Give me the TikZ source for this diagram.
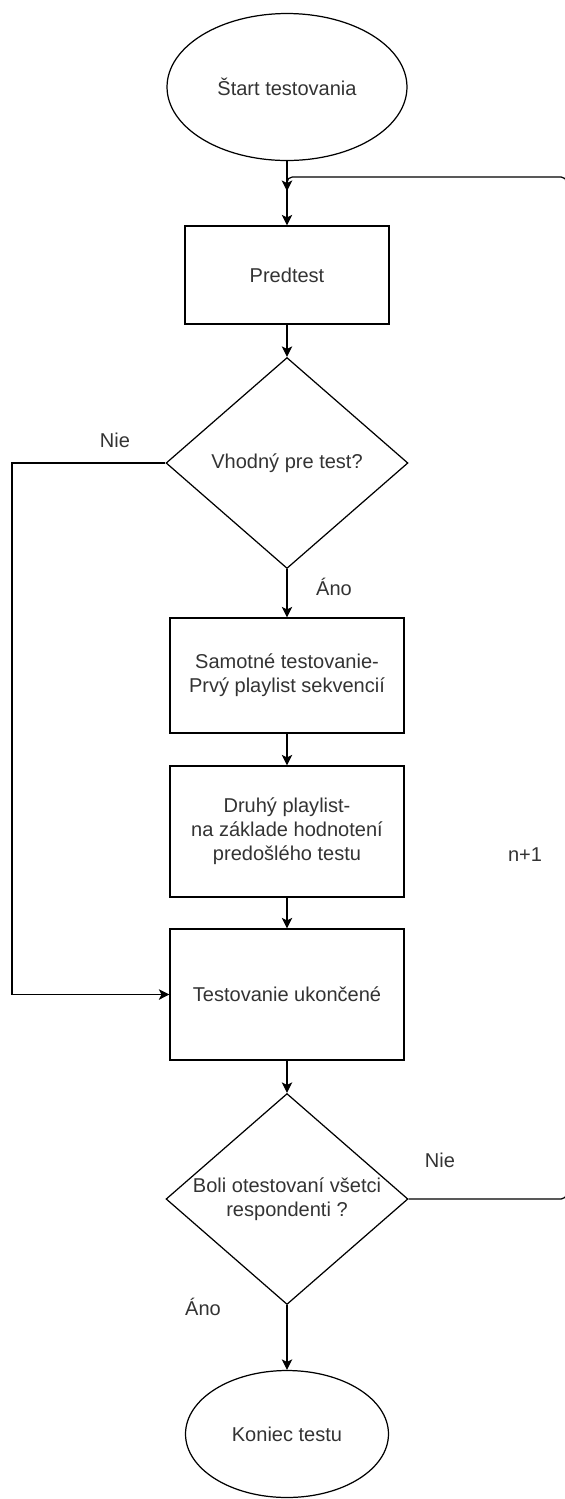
\documentclass[tikz,border=0pt]{standalone}
\usepackage{fontspec}
\setmainfont{Liberation Sans}
\usetikzlibrary{shapes.geometric,arrows.meta}
\definecolor{txt}{HTML}{333333}
\begin{document}
\begin{tikzpicture}[x=0.02cm, y=-0.02cm,
    every node/.style={font=\fontsize{11.4}{13.6}\selectfont, text=txt, align=center},
    term/.style={draw, ellipse, line width=0.7pt, inner sep=0pt},
    proc/.style={draw, rectangle, line width=0.7pt, minimum width=4.68cm},
    cond/.style={draw, diamond, line width=0.7pt, inner sep=0pt, shape aspect=1.15,
                 minimum width=4.84cm, minimum height=4.22cm},
    flow/.style={line width=0.7pt, -{Stealth[length=6pt, width=6pt, inset=1.5pt]}}]
    \useasboundingbox (0,0) rectangle (565,1499);

    \node[term, minimum width=4.8cm, minimum height=2.94cm] (start) at (287,87) {Štart testovania};
    \node[proc, minimum width=4.08cm, minimum height=1.96cm] (pred) at (287,275) {Predtest};
    \node[cond] (fit) at (287,463) {Vhodný pre test?};
    \node[proc, minimum height=2.3cm] (first) at (287,675.5) {Samotné testovanie-\\Prvý playlist sekvencií};
    \node[proc, minimum height=2.62cm] (second) at (287,831.5) {Druhý playlist-\\na základe hodnotení\\predošlého testu};
    \node[proc, minimum height=2.62cm] (done) at (287,994.5) {Testovanie ukončené};
    \node[cond] (all) at (287,1199) {Boli otestovaní všetci\\respondenti ?};
    \node[term, minimum width=4.06cm, minimum height=2.54cm] (end) at (287,1434) {Koniec testu};

    \coordinate (loopin)  at (287,191);
    \coordinate (loopbot) at (566.5,1199);
    \coordinate (looptop) at (566.5,177);
    \coordinate (rail)    at (12,463);

    \node (nie1) at (115,440) {Nie};
    \node (ano1) at (334,587) {Áno};
    \node (nie2) at (440,1160) {Nie};
    \node (ano2) at (203,1307) {Áno};
    \node (next) at (525,855) {n+1};

    \draw [flow] (start) -- (pred);
    \draw [flow] (pred) -- (fit);
    \draw [flow] (fit) -- (first);
    \draw [flow] (first) -- (second);
    \draw [flow] (second) -- (done);
    \draw [flow] (done) -- (all);
    \draw [flow] (all) -- (end);
    \draw [flow] (fit.west) -- (rail) |- (done.west);
    \draw [flow, rounded corners=3pt] (all.east) -- (loopbot) -- (looptop) -| (loopin);
\end{tikzpicture}
\end{document}
